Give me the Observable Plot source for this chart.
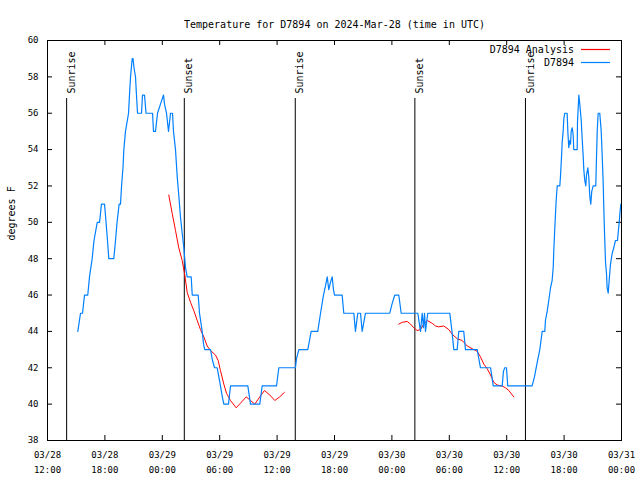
<!DOCTYPE html>
<html><head><meta charset="utf-8">
<script src="https://cdn.jsdelivr.net/npm/d3@7"></script>
<script src="https://cdn.jsdelivr.net/npm/@observablehq/plot@0.6"></script>
<style>body{margin:0;background:#fff} svg{display:block}</style>
</head><body><div id="chart"></div>
<script>
// hours after 2024-03-28 12:00 UTC
const blueHours = [
  3.17,3.45,3.66,3.87,4.21,4.39,4.67,4.86,5.20,5.44,
  5.64,5.96,6.12,6.27,6.41,6.93,7.11,7.27,7.49,7.63,
  7.74,7.89,7.98,8.15,8.31,8.47,8.57,8.68,8.85,8.94,
  9.04,9.20,9.30,9.41,9.83,9.93,10.14,10.30,10.98,11.08,
  11.29,11.50,11.81,12.13,12.23,12.44,12.65,12.86,13.07,13.17,
  13.38,13.56,13.72,13.90,14.08,14.25,14.43,14.60,15.02,15.13,
  15.75,15.89,16.17,16.31,16.44,17.04,17.25,17.46,17.74,17.91,
  18.08,18.24,18.43,18.92,19.13,20.94,21.22,22.19,22.44,23.94,
  24.18,25.92,26.03,26.27,27.21,27.56,28.25,28.54,28.85,29.06,
  29.24,29.40,29.58,29.76,29.89,30.00,30.80,30.97,32.02,32.19,
  32.43,32.72,32.89,33.24,35.78,36.01,36.30,36.72,36.97,38.71,
  38.99,39.17,39.30,39.41,39.51,39.75,42.05,42.28,42.47,42.82,
  42.99,43.51,43.69,44.92,45.05,45.26,46.31,46.46,46.59,47.53,
  47.66,47.80,47.98,48.11,50.66,50.90,51.19,51.46,51.71,51.98,
  52.05,52.23,52.40,52.58,52.75,52.86,52.92,53.03,53.17,53.28,
  53.55,53.62,53.73,53.80,53.90,53.97,54.07,54.32,54.39,54.49,
  54.59,54.67,54.74,54.85,54.95,55.01,55.37,55.40,55.54,55.64,
  55.79,55.89,56.00,56.06,56.16,56.27,56.34,56.48,56.58,56.69,
  56.79,56.89,57.04,57.31,57.46,57.56,57.73,57.88,57.98,58.09,
  58.15,58.22,58.33,58.43,58.50,58.61,58.71,58.85,59.03,59.19,
  59.37,59.58,59.65,59.76,59.86,59.93
];
const blueTemps = [
  44,45,45,46,46,47,48,49,50,50,
  51,51,50,49,48,48,49,50,51,51,
  52,53,54,55,55.5,56,57,58,59,59,
  58.5,58,57,56,56,57,57,56,56,55,
  55,56,56.5,57,56.5,56,55,56,56,55,
  54,52.5,51.5,50.3,49.4,48.6,47.5,47,47,46,
  46,45,44,43.3,43,43,42.4,42,42,41.5,
  41,40.5,40,40,41,41,40,40,41,41,
  42,42,42.5,43,43,44,44,45,46,46.5,
  47,46.3,46.7,47,46.3,46,46,45,45,44,
  45,45,44,45,45,45.5,46,46,45,45,
  44,45,44.2,45,44,45,45,44,43,43,
  44,44,43,43,42.6,42,42,41.5,41,41,
  41.8,42,42,41,41,41.5,42.3,43,44,44,
  44.6,45.1,45.7,46.4,46.8,47.5,48.4,49.7,51.2,52,
  52,52.5,53.6,54.4,55,55.7,56,56,55,54.1,
  54.5,54.3,55,55.2,54.8,54,54,55.5,57,56.5,
  55.6,54.6,53.6,52.9,52.3,52,52.6,53,52.5,51.4,
  51,51.7,52,52,55,56,56,55,53.7,52.1,
  50.8,49.5,47.8,47.2,46.4,46.1,46.8,47.7,48.3,48.6,
  49,49,49.4,50,50.65,51
];
const analysisHours1 = [12.68,13.03,13.38,13.72,14.08,14.35,14.60,14.95,15.29,15.65,15.99,16.34,16.69,17.04,17.56,17.84,18.08,18.43,18.71,19.13,19.72,20.17,20.77,21.22,21.67,22.19,22.68,23.24,23.76,24.28,24.77];
const analysisTemps1 = [51.5,50.5,49.55,48.6,47.9,47.1,46.15,45.6,45.15,44.6,44.1,43.7,43.2,42.95,42.7,42.4,41.85,41.1,40.6,40.2,39.8,40.05,40.4,40.2,40.0,40.4,40.75,40.5,40.2,40.4,40.65];
const analysisHours2 = [36.72,37.08,37.60,37.94,38.29,38.64,38.99,39.33,39.69,40.21,40.56,40.90,41.42,41.95,42.30,42.82,43.35,43.87,44.39,44.92,45.26,45.61,45.96,46.31,46.65,47.01,47.53,47.87,48.22,48.74];
const analysisTemps2 = [44.4,44.5,44.55,44.4,44.2,44.05,44.1,44.4,44.6,44.45,44.3,44.25,44.3,44.1,43.85,43.6,43.5,43.2,43.05,42.9,42.6,42.2,41.95,41.6,41.2,41.05,41.0,40.9,40.75,40.4];
const sunHours = [2.0, 14.3, 25.9, 38.4, 49.96];
const sunLabels = ["Sunrise","Sunset","Sunrise","Sunset","Sunrise"];
const yTickValues = [38,40,42,44,46,48,50,52,54,56,58,60];
const legendLabels = ["D7894 Analysis","D7894"];
const legendColors = ["#ff0000","#0080ff"];
const titleText = "Temperature for D7894 on 2024-Mar-28 (time in UTC)";
const yLabel = "degrees F";

const start = Date.UTC(2024,2,28,12);
const t = h => new Date(start + h*3600e3);
const blue = blueHours.map((h,i)=>({time:t(h), temp:blueTemps[i]}));
const red = [
  ...analysisHours1.map((h,i)=>({time:t(h), temp:analysisTemps1[i], seg:1})),
  ...analysisHours2.map((h,i)=>({time:t(h), temp:analysisTemps2[i], seg:2}))
];
const sun = sunHours.map((h,i)=>({time:t(h), label:sunLabels[i]}));
const xTicks = d3.utcHour.every(6).range(t(0), t(60.01));
const fmt = d3.utcFormat("%m/%d\n%H:%M");
const font = "DejaVu Sans Mono";

const legend = (index, scales, values, dims) => {
  const g = d3.create("svg:g").attr("font-family", font).attr("font-size", 10);
  const xr = dims.width - dims.marginRight;
  const yt = dims.marginTop;
  legendLabels.forEach((lab,i)=>{
    const y = yt + 9.5 + i*13;
    g.append("text").attr("x", xr-47).attr("y", y).attr("dy","0.32em")
      .attr("text-anchor","end").attr("fill","#000").text(lab);
    g.append("line").attr("x1", xr-40).attr("x2", xr-11).attr("y1", y).attr("y2", y)
      .attr("stroke", legendColors[i]).attr("stroke-width", 1.2);
  });
  return g.node();
};

const chart = Plot.plot({
  width:640, height:480,
  marginLeft:47, marginRight:19, marginTop:40, marginBottom:40,
  style:{fontFamily:font, fontSize:"9px", background:"#fff", color:"#000"},
  x:{type:"utc", domain:[t(0), t(60)], label:null},
  y:{domain:[38,60], label:null},
  marks:[
    Plot.axisX(xTicks, {tickSize:0, tickPadding:7, tickFormat:fmt, lineHeight:1.67, fontSize:9, label:null}),
    Plot.axisY(yTickValues, {tickSize:0, tickPadding:9, fontSize:9, label:null}),
    Plot.tickX(xTicks, {x:d=>d, insetTop:395, stroke:"#000"}),
    Plot.tickX(xTicks, {x:d=>d, insetBottom:395, stroke:"#000"}),
    Plot.tickY(yTickValues, {y:d=>d, insetRight:569, stroke:"#000"}),
    Plot.tickY(yTickValues, {y:d=>d, insetLeft:569, stroke:"#000"}),
    Plot.ruleX(sun, {x:"time", insetTop:58, stroke:"#000"}),
    Plot.text(sun, {x:"time", text:"label", frameAnchor:"top", rotate:-90, textAnchor:"start", dy:53, dx:1, fontSize:10, fill:"#000"}),
    Plot.line(red, {x:"time", y:"temp", z:"seg", stroke:"#ff0000", strokeWidth:1}),
    Plot.line(blue, {x:"time", y:"temp", stroke:"#0080ff", strokeWidth:1.2}),
    Plot.frame({stroke:"#000"}),
    Plot.text([titleText], {frameAnchor:"top", dy:-20, fontSize:10, fill:"#000"}),
    Plot.text([yLabel], {frameAnchor:"left", rotate:-90, dx:-35.5, fontSize:10, fill:"#000"}),
    legend
  ]
});
document.getElementById("chart").append(chart);
</script>
</body></html>
